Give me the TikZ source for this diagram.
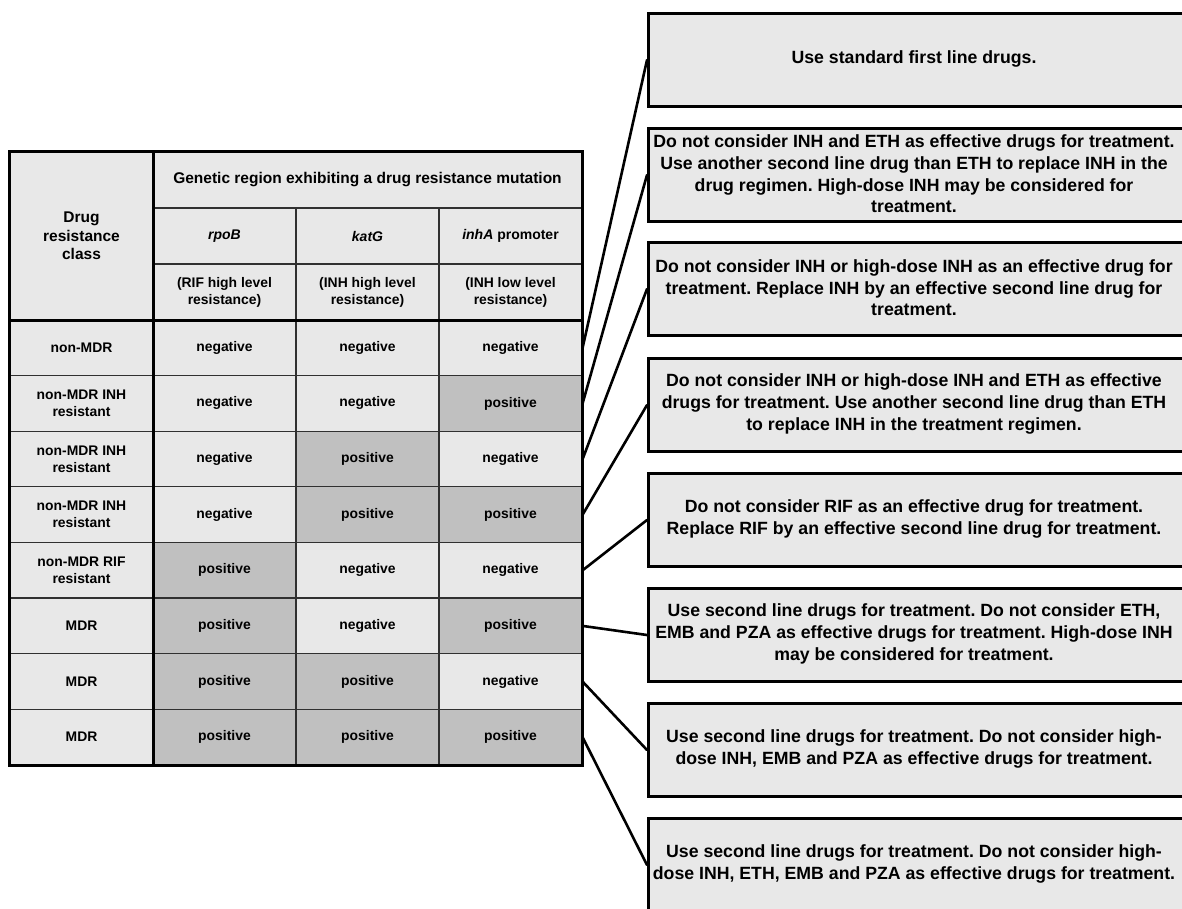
\documentclass[tikz,border=0pt]{standalone}
\usepackage{fontspec}
\setmainfont{Liberation Sans}
\frenchspacing
\definecolor{lightc}{HTML}{E8E8E8}
\definecolor{darkc}{HTML}{C0C0C0}
\definecolor{gridc}{HTML}{303030}
\newcommand{\tabfont}{\fontsize{13.9}{17}\selectfont\bfseries}
\newcommand{\headfont}{\fontsize{15.5}{18.3}\selectfont\bfseries}
\newcommand{\genefont}{\fontsize{14}{17}\selectfont\bfseries}
\newcommand{\boxfont}{\fontsize{17.7}{21.6}\selectfont\bfseries}
\begin{document}
\begin{tikzpicture}[x=1pt,y=-1pt,
  cell/.style={draw=gridc, line width=1.2pt, fill=lightc, minimum width=143pt,
    minimum height=55.625pt, inner sep=0pt, align=center, font=\tabfont},
  poscell/.style={cell, fill=darkc},
  advice/.style={draw=black, line width=3pt, fill=lightc, minimum width=560pt,
    minimum height=93pt, inner sep=0pt, anchor=north west},
  advtext/.style={align=center, font=\boxfont, inner sep=0pt},
  link/.style={line width=2.6pt, line cap=round},
  thickborder/.style={line width=3pt}]
\useasboundingbox (0,0) rectangle (1182,908);
\clip (0,0) rectangle (1182,908);
\fill[white] (0,0) rectangle (1182,908);

% header
\node[cell, minimum height=168pt, font=\headfont] (h0) at (81.5,236) {Drug\\resistance\\class};
\node[cell, minimum width=429pt, minimum height=56pt, font=\headfont] (hg) at (367.5,180) {Genetic region exhibiting a drug resistance mutation};
\node[cell, minimum height=56pt, font=\genefont] (g1) at (224.5,236) {\itshape rpoB};
\node[cell, minimum height=56pt, font=\genefont] (g2) at (367.5,236) {\itshape katG};
\node[cell, minimum height=56pt, font=\genefont] (g3) at (510.5,236) {{\itshape inhA} promoter};
\node[cell, minimum height=56pt] (d1) at (224.5,292) {(RIF high level\\resistance)};
\node[cell, minimum height=56pt] (d2) at (367.5,292) {(INH high level\\resistance)};
\node[cell, minimum height=56pt] (d3) at (510.5,292) {(INH low level\\resistance)};

% data rows
\node[cell] (r1c1) at (81.5,347.8) {non-MDR};
\node[cell] (r1c2) at (224.5,347.8) {negative};
\node[cell] (r1c3) at (367.5,347.8) {negative};
\node[cell] (r1c4) at (510.5,347.8) {negative};

\node[cell] (r2c1) at (81.5,403.4) {non-MDR INH\\resistant};
\node[cell] (r2c2) at (224.5,403.4) {negative};
\node[cell] (r2c3) at (367.5,403.4) {negative};
\node[poscell]  (r2c4) at (510.5,403.4) {positive};

\node[cell] (r3c1) at (81.5,459.1) {non-MDR INH\\resistant};
\node[cell] (r3c2) at (224.5,459.1) {negative};
\node[poscell]  (r3c3) at (367.5,459.1) {positive};
\node[cell] (r3c4) at (510.5,459.1) {negative};

\node[cell] (r4c1) at (81.5,514.7) {non-MDR INH\\resistant};
\node[cell] (r4c2) at (224.5,514.7) {negative};
\node[poscell]  (r4c3) at (367.5,514.7) {positive};
\node[poscell]  (r4c4) at (510.5,514.7) {positive};

\node[cell] (r5c1) at (81.5,570.3) {non-MDR RIF\\resistant};
\node[poscell]  (r5c2) at (224.5,570.3) {positive};
\node[cell] (r5c3) at (367.5,570.3) {negative};
\node[cell] (r5c4) at (510.5,570.3) {negative};

\node[cell] (r6c1) at (81.5,625.9) {MDR};
\node[poscell]  (r6c2) at (224.5,625.9) {positive};
\node[cell] (r6c3) at (367.5,625.9) {negative};
\node[poscell]  (r6c4) at (510.5,625.9) {positive};

\node[cell] (r7c1) at (81.5,681.6) {MDR};
\node[poscell]  (r7c2) at (224.5,681.6) {positive};
\node[poscell]  (r7c3) at (367.5,681.6) {positive};
\node[cell] (r7c4) at (510.5,681.6) {negative};

\node[cell] (r8c1) at (81.5,737.2) {MDR};
\node[poscell]  (r8c2) at (224.5,737.2) {positive};
\node[poscell]  (r8c3) at (367.5,737.2) {positive};
\node[poscell]  (r8c4) at (510.5,737.2) {positive};

% thick table lines
\draw[thickborder] (h0.north west) rectangle (r8c4.south east);
\draw[thickborder] (h0.south west) -- (d3.south east);
\draw[thickborder] (h0.north east) -- (r8c1.south east);

% advice boxes
\node[advice] (b1) at (647,12) {};
\node[advice] (b2) at (647,127) {};
\node[advice] (b3) at (647,241) {};
\node[advice] (b4) at (647,357) {};
\node[advice] (b5) at (647,472) {};
\node[advice] (b6) at (647,587) {};
\node[advice] (b7) at (647,702) {};
\node[advice] (b8) at (647,817) {};

\node[advtext] (t1) at (914,59) {Use standard first line drugs.};
\node[advtext] (t2) at (914,174) {Do not consider INH and ETH as effective drugs for treatment.\\Use another second line drug than ETH to replace INH in the\\drug regimen. High-dose INH may be considered for\\treatment.};
\node[advtext] (t3) at (914,288) {Do not consider INH or high-dose INH as an effective drug for\\treatment. Replace INH by an effective second line drug for\\treatment.};
\node[advtext] (t4) at (914,404) {Do not consider INH or high-dose INH and ETH as effective\\drugs for treatment. Use another second line drug than ETH\\to replace INH in the treatment regimen.};
\node[advtext] (t5) at (914,519) {Do not consider RIF as an effective drug for treatment.\\Replace RIF by an effective second line drug for treatment.};
\node[advtext] (t6) at (914,634) {Use second line drugs for treatment. Do not consider ETH,\\EMB and PZA as effective drugs for treatment. High-dose INH\\may be considered for treatment.};
\node[advtext] (t7) at (914,749) {Use second line drugs for treatment. Do not consider high-\\dose INH, EMB and PZA as effective drugs for treatment.};
\node[advtext] (t8) at (914,864) {Use second line drugs for treatment. Do not consider high-\\dose INH, ETH, EMB and PZA as effective drugs for treatment.};

% connectors
\draw[link] (r1c4.east) -- (b1.west);
\draw[link] (r2c4.east) -- (b2.west);
\draw[link] (r3c4.east) -- (b3.west);
\draw[link] (r4c4.east) -- (b4.west);
\draw[link] (r5c4.east) -- (b5.west);
\draw[link] (r6c4.east) -- (b6.west);
\draw[link] (r7c4.east) -- (b7.west);
\draw[link] (r8c4.east) -- (b8.west);
\end{tikzpicture}
\end{document}
